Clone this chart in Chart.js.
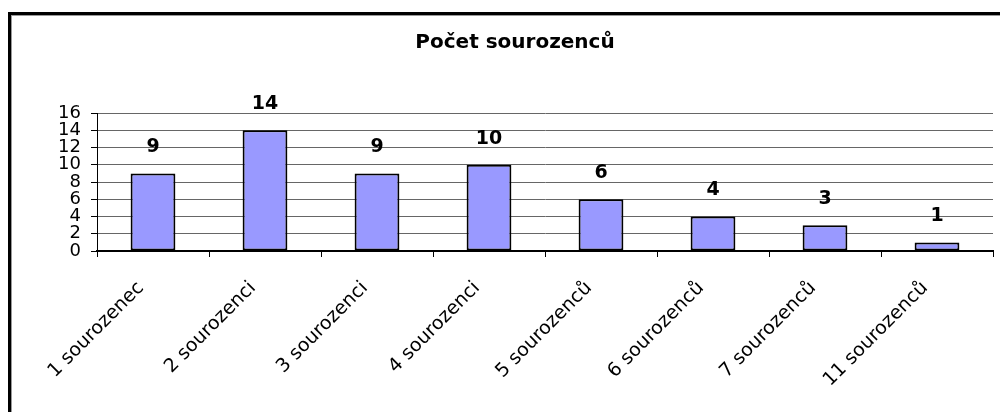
<!DOCTYPE html>
<html>
<head>
<meta charset="utf-8">
<title>Počet sourozenců</title>
<script src="https://cdn.jsdelivr.net/npm/chart.js@4.4.0/dist/chart.umd.min.js"></script>
<style>
  body { margin: 0; background: #fff; }
  #wrap { width: 1000px; height: 412px; position: relative; }
</style>
</head>
<body>
<div id="wrap"><canvas id="myChartBar"></canvas></div>
<script>
// Datos
var categorias = ["1 sourozenec", "2 sourozenci", "3 sourozenci", "4 sourozenci",
  "5 sourozenců", "6 sourozenců", "7 sourozenců", "11 sourozenců"];
var valores = [9, 14, 9, 10, 6, 4, 3, 1];
var ejeY = [0, 2, 4, 6, 8, 10, 12, 14, 16];

// Marco negro alrededor del grafico
var marco = {
  id: "marco",
  beforeDraw: function(chart) {
    var ctx = chart.ctx;
    ctx.save();
    ctx.fillStyle = "#fff";
    ctx.fillRect(0, 0, chart.width, chart.height);
    ctx.strokeStyle = "#999";
    ctx.lineWidth = 1;
    ctx.strokeRect(11.5, 15.5, 1010, 420);
    ctx.strokeStyle = "#000";
    ctx.lineWidth = 3;
    ctx.strokeRect(9.5, 13.5, 1010, 420);
    ctx.restore();
  }
};

// Etiquetas encima de las barras
var etiquetas = {
  id: "etiquetas",
  afterDatasetsDraw: function(chart) {
    var ctx = chart.ctx;
    var meta = chart.getDatasetMeta(0);
    ctx.save();
    ctx.font = "bold 19px 'DejaVu Sans'";
    ctx.fillStyle = "#000";
    ctx.textAlign = "center";
    ctx.textBaseline = "middle";
    meta.data.forEach(function(bar, i) {
      ctx.fillText(String(valores[i]), bar.x, bar.y - 26);
    });
    ctx.restore();
  }
};

var barChartCanva = document.getElementById("myChartBar");

var barChart = new Chart(barChartCanva, {
  type: "bar",
  data: {
    labels: categorias,
    datasets: [{
      label: "Počet sourozenců",
      data: valores,
      backgroundColor: "#9999FF",
      borderColor: "#000",
      borderWidth: 2,
      borderSkipped: false,
      barPercentage: 0.4,
      categoryPercentage: 1
    }]
  },
  options: {
    responsive: true,
    maintainAspectRatio: false,
    animation: false,
    layout: {
      autoPadding: false,
      padding: { left: 37, right: 7, top: 0, bottom: 0 }
    },
    plugins: {
      legend: { display: false },
      tooltip: { enabled: false },
      title: {
        display: true,
        text: "Počet sourozenců",
        color: "#000",
        font: { family: "'DejaVu Sans'", size: 20, weight: "bold", lineHeight: 1.2 },
        padding: { top: 31, bottom: 58 }
      }
    },
    scales: {
      x: {
        afterFit: function(scale) { scale.height = 161; },
        grid: {
          offset: true,
          drawOnChartArea: true,
          color: function(c) { return c.index === categorias.length ? "#000" : "rgba(0,0,0,0)"; },
          tickColor: "#000",
          tickLength: 6,
          lineWidth: 1
        },
        border: { color: "#000", width: 2 },
        ticks: {
          color: "#000",
          font: { family: "'DejaVu Sans'", size: 19 },
          minRotation: 45,
          maxRotation: 45,
          autoSkip: false,
          labelOffset: -12,
          padding: 20
        }
      },
      y: {
        min: 0,
        max: 16,
        afterFit: function(scale) { scale.width = 60; },
        afterBuildTicks: function(scale) {
          scale.ticks = ejeY.map(function(v) { return { value: v }; });
        },
        grid: {
          color: "#666",
          tickColor: "#000",
          tickLength: 6,
          lineWidth: 1
        },
        border: { color: "#000", width: 1 },
        ticks: {
          color: "#000",
          autoSkip: false,
          font: { family: "'DejaVu Sans'", size: 18, lineHeight: 1 },
          padding: 10
        }
      }
    }
  },
  plugins: [marco, etiquetas]
});
</script>
</body>
</html>
